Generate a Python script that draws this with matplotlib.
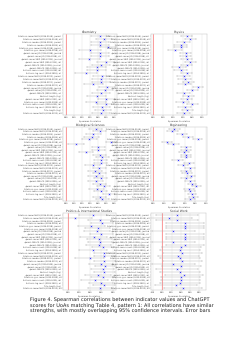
import matplotlib
matplotlib.use("Agg")
import matplotlib.pyplot as plt

plt.rcParams["text.hinting"] = "none"
plt.rcParams["text.hinting_factor"] = 1

# indicator rows (same list in every panel, top to bottom)
row_labels = [
    "Citations: mean NLCS (2014-2018), journal",
    "Citations: mean NLCS (2014-2018), all",
    "Citations: median (2014-2018), journal",
    "Citations: median (2014-2018), all",
    "Citations: geo. mean (2014-2018), journal",
    "Citations: geo. mean (2014-2018), all",
    "Journal: mean JIF (2014-2018), journal",
    "Journal: mean JIF (2014-2018), all",
    "Journal: mean SNIP (2014-2018), journal",
    "Journal: mean SNIP (2014-2018), all",
    "Journal: MNLCS (2014-2018), journal",
    "Journal: MNLCS (2014-2018), all",
    "Authors: mean count (2014-2018), all",
    "Authors: log count (2014-2018), all",
    "Citations: mean NLCS (2019-2020), journal",
    "Citations: mean NLCS (2019-2020), all",
    "Citations: median (2019-2020), journal",
    "Citations: median (2019-2020), all",
    "Journal: mean JIF (2019-2020), journal",
    "Journal: mean JIF (2019-2020), all",
    "Journal: MNLCS (2019-2020), all",
    "Abstract length (log)",
    "Journal: mean SNIP (2019-2020), all",
    "Citations: geo. mean (2019-2020), all",
    "Authors: mean count (2019-2020), all",
    "Authors: log count (2019-2020), all",
    "Title length (log)",
    "Citations: mean NLCS (2014-2020), all",
]

panel_titles = ["Chemistry", "Physics", "Biological Sciences", "Engineering",
                "Politics & International Studies", "Social Work"]

chem_rho = [0.42, 0.47, 0.42, 0.42, 0.52, 0.30, 0.42, 0.42, 0.29, 0.49, 0.43, 0.38, 0.38, 0.25,
            0.44, 0.43, 0.43, 0.34, 0.51, 0.48, 0.43, 0.38, 0.50, 0.37, 0.49, 0.44, 0.46, 0.43]
chem_ci = [0.11, 0.10, 0.11, 0.11, 0.10, 0.13, 0.11, 0.11, 0.13, 0.10, 0.11, 0.12, 0.12, 0.13,
           0.11, 0.11, 0.11, 0.12, 0.10, 0.10, 0.11, 0.12, 0.10, 0.12, 0.10, 0.11, 0.10, 0.11]

phys_rho = [0.34, 0.38, 0.31, 0.28, 0.28, 0.22, 0.33, 0.33, 0.34, 0.38, 0.34, 0.26, 0.28, 0.34,
            0.31, 0.32, 0.36, 0.32, 0.46, 0.40, 0.31, 0.36, 0.34, 0.30, 0.40, 0.32, 0.35, 0.31]
phys_ci = [0.06, 0.06, 0.07, 0.07, 0.07, 0.07, 0.06, 0.06, 0.06, 0.06, 0.06, 0.07, 0.07, 0.06,
           0.07, 0.07, 0.06, 0.07, 0.05, 0.06, 0.07, 0.06, 0.06, 0.07, 0.06, 0.07, 0.06, 0.07]

bio_rho = [0.37, 0.42, 0.34, 0.32, 0.29, 0.56, 0.13, 0.40, 0.40, 0.25, 0.42, 0.45, 0.43, 0.43,
           0.33, 0.41, 0.36, 0.41, 0.37, 0.43, 0.37, 0.42, 0.47, 0.38, 0.43, 0.53, 0.42, 0.45]
bio_ci = [0.08, 0.08, 0.09, 0.09, 0.09, 0.07, 0.10, 0.08, 0.08, 0.09, 0.08, 0.08, 0.08, 0.08,
          0.09, 0.08, 0.09, 0.08, 0.09, 0.08, 0.09, 0.08, 0.08, 0.09, 0.08, 0.07, 0.08, 0.08]

eng_rho = [0.20, 0.18, 0.27, 0.33, 0.42, 0.13, 0.19, 0.31, 0.31, 0.29, 0.31, 0.31, 0.23, 0.34,
           0.28, 0.35, 0.31, 0.32, 0.36, 0.31, 0.35, 0.37, 0.41, 0.34, 0.35, 0.37, 0.38, 0.35]
eng_ci = [0.05, 0.05, 0.05, 0.05, 0.04, 0.05, 0.05, 0.05, 0.05, 0.05, 0.05, 0.05, 0.05, 0.05,
          0.05, 0.05, 0.05, 0.05, 0.04, 0.05, 0.05, 0.04, 0.04, 0.05, 0.05, 0.04, 0.04, 0.05]

pol_rho = [0.45, 0.13, 0.57, 0.61, 0.42, 0.53, 0.52, 0.60, 0.46, 0.56, 0.57, 0.55, 0.63, 0.44,
           0.65, 0.65, 0.39, 0.65, 0.59, 0.67, 0.62, 0.65, 0.54, 0.62, 0.48, 0.59, 0.64, 0.57]
pol_ci = [0.25, 0.30, 0.22, 0.20, 0.25, 0.23, 0.23, 0.21, 0.24, 0.22, 0.22, 0.22, 0.20, 0.25,
          0.19, 0.19, 0.26, 0.19, 0.21, 0.18, 0.20, 0.19, 0.23, 0.20, 0.24, 0.21, 0.20, 0.22]

sw_rho = [0.31, 0.15, 0.32, 0.49, 0.49, 0.49, 0.24, 0.49, 0.49, 0.49, 0.24, 0.49, 0.41, 0.38,
          0.43, 0.34, 0.38, 0.43, 0.24, 0.41, 0.31, 0.38, 0.47, 0.40, 0.40, 0.38, 0.29, 0.45]
sw_ci = [0.45, 0.48, 0.45, 0.40, 0.40, 0.40, 0.46, 0.40, 0.40, 0.40, 0.46, 0.40, 0.42, 0.43,
         0.42, 0.44, 0.43, 0.42, 0.46, 0.42, 0.45, 0.43, 0.41, 0.42, 0.42, 0.43, 0.45, 0.41]

panel_rho = [chem_rho, phys_rho, bio_rho, eng_rho, pol_rho, sw_rho]
panel_ci = [chem_ci, phys_ci, bio_ci, eng_ci, pol_ci, sw_ci]
panel_xlim = [(-0.032, 0.63), (-0.024, 0.55), (-0.032, 0.63),
              (-0.023, 0.51), (-0.09, 0.86), (-0.24, 0.94)]
panel_xticks = [[0, 0.1, 0.2, 0.3, 0.4, 0.5, 0.6], [0, 0.1, 0.2, 0.3, 0.4, 0.5],
                [0, 0.1, 0.2, 0.3, 0.4, 0.5, 0.6], [0, 0.1, 0.2, 0.3, 0.4, 0.5],
                [0, 0.2, 0.4, 0.6, 0.8], [-0.2, 0, 0.2, 0.4, 0.6, 0.8]]

W, H = 250, 354
# axes boxes in pixels: left, top, right, bottom
boxes = [(63, 34, 117, 115), (151, 34, 207, 115),
         (63, 127, 117, 201), (151, 127, 207, 201),
         (63, 213, 116, 290), (151, 213, 206, 290)]

fig = plt.figure(figsize=(2.5, 3.54), dpi=100)

for i, (l, t, r, b) in enumerate(boxes):
    ax = fig.add_axes([l / W, 1 - b / H, (r - l) / W, (b - t) / H])
    y = list(range(len(row_labels)))
    ax.errorbar(panel_rho[i], y, xerr=panel_ci[i], fmt="x", color="#3a3aff",
                ecolor="#b0b0b0", elinewidth=0.3, capsize=0.4, capthick=0.3,
                markersize=1.1, markeredgewidth=0.35, zorder=3)
    ax.axvline(0, color="#ff5555", linewidth=0.4, zorder=2)
    ax.set_yticks(y)
    ax.set_yticklabels(row_labels, fontsize=1.2, color="#333333")
    ax.set_ylim(len(row_labels) - 0.3, -0.7)
    ax.set_xlim(panel_xlim[i])
    ax.set_xticks(panel_xticks[i])
    ax.set_xticklabels([f"{v:.2f}" for v in panel_xticks[i]], fontsize=1.4, color="#333333")
    ax.set_xlabel("Spearman Correlation", fontsize=1.5, labelpad=0.6, color="#333333")
    ax.set_title(panel_titles[i], fontsize=1.9, pad=1.0, color="#333333")
    ax.grid(axis="x", color="#e2e2e2", linewidth=0.3, zorder=0)
    ax.tick_params(length=0.8, width=0.25, pad=0.6, color="#999999")
    for s in ax.spines.values():
        s.set_linewidth(0.3)
        s.set_color("#bbbbbb")

caption = [
    "Figure 4. Spearman correlations between indicator values and ChatGPT",
    "scores for UoAs matching Table 4, pattern 1: All correlations have similar",
    "strengths, with mostly overlapping 95% confidence intervals. Error bars",
]
for k, line in enumerate(caption):
    fig.text(30 / W, 1 - (300 + 5.3 * k) / H, line, fontsize=3.7,
             ha="left", va="center", color="#222222")

fig.savefig("out.png", dpi=100)
plt.close(fig)
